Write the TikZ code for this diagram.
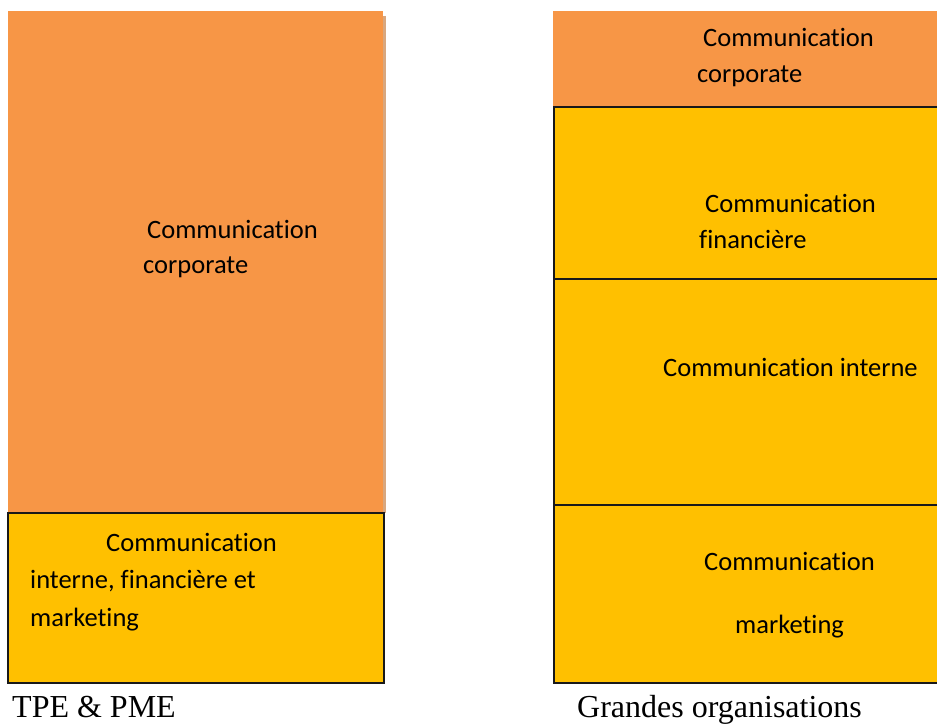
\documentclass[tikz,border=0pt]{standalone}
\usepackage{fontspec}
\setmainfont{Liberation Serif}
\newfontfamily\boxfont[RawFeature={-liga;-clig}]{Carlito}
\definecolor{corpOrange}{HTML}{F79646}
\definecolor{unitYellow}{HTML}{FFC000}
\definecolor{shadowTan}{HTML}{D9A77E}
\begin{document}
\begin{tikzpicture}[x=1pt,y=-1pt,
  block/.style={rectangle, anchor=north west, inner sep=0pt, outer sep=0pt},
  orangeblock/.style={block, fill=corpOrange},
  yellowblock/.style={block, fill=unitYellow, draw=black!90, line width=1.5pt},
  yellowfill/.style={block, fill=unitYellow},
  edge/.style={draw=black!90, line width=1.5pt},
  boxtext/.style={anchor=base west, inner sep=0pt, font=\boxfont\fontsize{26.5}{32}\selectfont},
  caption/.style={anchor=base west, inner sep=0pt, font=\fontsize{32}{38}\selectfont}]
  \useasboundingbox (0,0) rectangle (937,725);
  \clip (0,0) rectangle (937,725);

  % small companies column
  \fill[shadowTan] (383,16) rectangle (386,513);
  \node[orangeblock, minimum width=375pt, minimum height=502pt] (tpeCorp) at (8,11) {};
  \node[yellowblock, minimum width=376pt, minimum height=170pt] (tpeOps) at (8,513) {};

  \node[boxtext] (tcA) at (147,238) {Communication};
  \node[boxtext] (tcB) at (143,273) {corporate};
  \node[boxtext] (toA) at (106,551) {Communication};
  \node[boxtext] (toB) at (30,588) {interne, financière et};
  \node[boxtext] (toC) at (30,626) {marketing};

  % large organisations column, running past the right edge (no right border)
  \node[orangeblock, minimum width=400pt, minimum height=96pt] (goCorp) at (553,11) {};
  \node[yellowfill, minimum width=400pt, minimum height=172pt] (goFin) at (554,107) {};
  \node[yellowfill, minimum width=400pt, minimum height=226pt] (goInt) at (554,279) {};
  \node[yellowfill, minimum width=400pt, minimum height=178pt] (goMkt) at (554,505) {};
  \draw[edge] (goFin.north east) -- (goFin.north west) -- (goMkt.south west) -- (goMkt.south east);
  \draw[edge] (goInt.north west) -- (goInt.north east);
  \draw[edge] (goMkt.north west) -- (goMkt.north east);

  \node[boxtext] (gcA) at (703,47) {Communication};
  \node[boxtext] (gcB) at (697,82) {corporate};
  \node[boxtext] (gfA) at (705,212) {Communication};
  \node[boxtext] (gfB) at (699,248) {financière};
  \node[boxtext] (giA) at (663,376) {Communication interne};
  \node[boxtext] (gmA) at (704,570) {Communication};
  \node[boxtext] (gmB) at (735,633) {marketing};

  % column captions
  \node[caption] (capTpe) at (12,717) {TPE \& PME};
  \node[caption] (capGo) at (577,717) {Grandes organisations};
\end{tikzpicture}
\end{document}
